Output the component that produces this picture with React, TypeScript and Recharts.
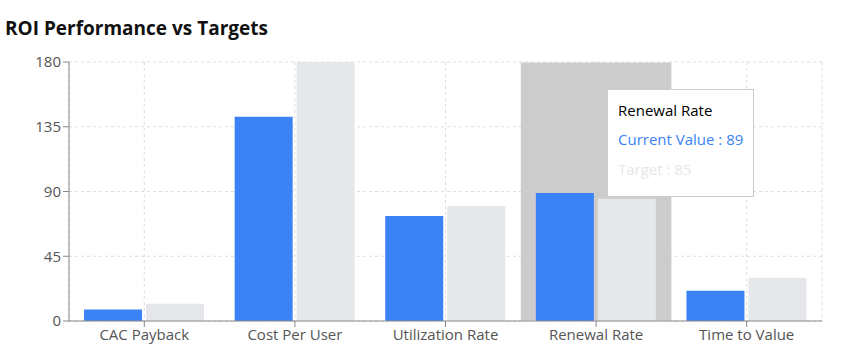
import { BarChart, Bar, XAxis, YAxis, CartesianGrid, Tooltip } from "recharts";

const categories = ["CAC Payback", "Cost Per User", "Utilization Rate", "Renewal Rate", "Time to Value"];
const currentValues = [8, 142, 73, 89, 21];
const targetValues = [12, 180, 80, 85, 30];
const yTicks = [0, 45, 90, 135, 180];

const data = categories.map((name, i) => ({ name, current: currentValues[i], target: targetValues[i] }));

const FONT = "'Open Sans', 'Noto Sans', sans-serif";

export default function App() {
  return (
    <div style={{ position: "absolute", left: 0, top: 0, width: 842, height: 360, fontFamily: FONT, background: "#fff" }}>
      <div style={{ position: "absolute", left: 5, top: 15, fontSize: 19, fontWeight: 700, color: "#111", whiteSpace: "nowrap" }}>
        ROI Performance vs Targets
      </div>
      <div style={{ position: "absolute", left: 0, top: 0 }}>
        <BarChart width={842} height={360} data={data} margin={{ top: 62, right: 20, bottom: 9, left: 0 }} barCategoryGap="10%" barGap={4}>
          <CartesianGrid strokeDasharray="3 3" stroke="#ddd" />
          <XAxis dataKey="name" height={30} tick={{ fill: "#555", fontSize: 15 }} stroke="#888" />
          <YAxis width={69} ticks={yTicks} domain={[0, 180]} tick={{ fill: "#555", fontSize: 15 }} stroke="#888" />
          <Tooltip
            active
            defaultIndex={3}
            cursor={{ fill: "#ccc" }}
            position={{ x: 607, y: 89 }}
            contentStyle={{ fontSize: 15, padding: "10px 10px 12px" }}
            labelStyle={{ color: "#000", marginBottom: 4 }}
            itemStyle={{ paddingTop: 5, paddingBottom: 5 }}
          />
          <Bar dataKey="current" name="Current Value" fill="#3b82f6" isAnimationActive={false} />
          <Bar dataKey="target" name="Target" fill="#e5e7eb" isAnimationActive={false} />
        </BarChart>
      </div>
    </div>
  );
}
